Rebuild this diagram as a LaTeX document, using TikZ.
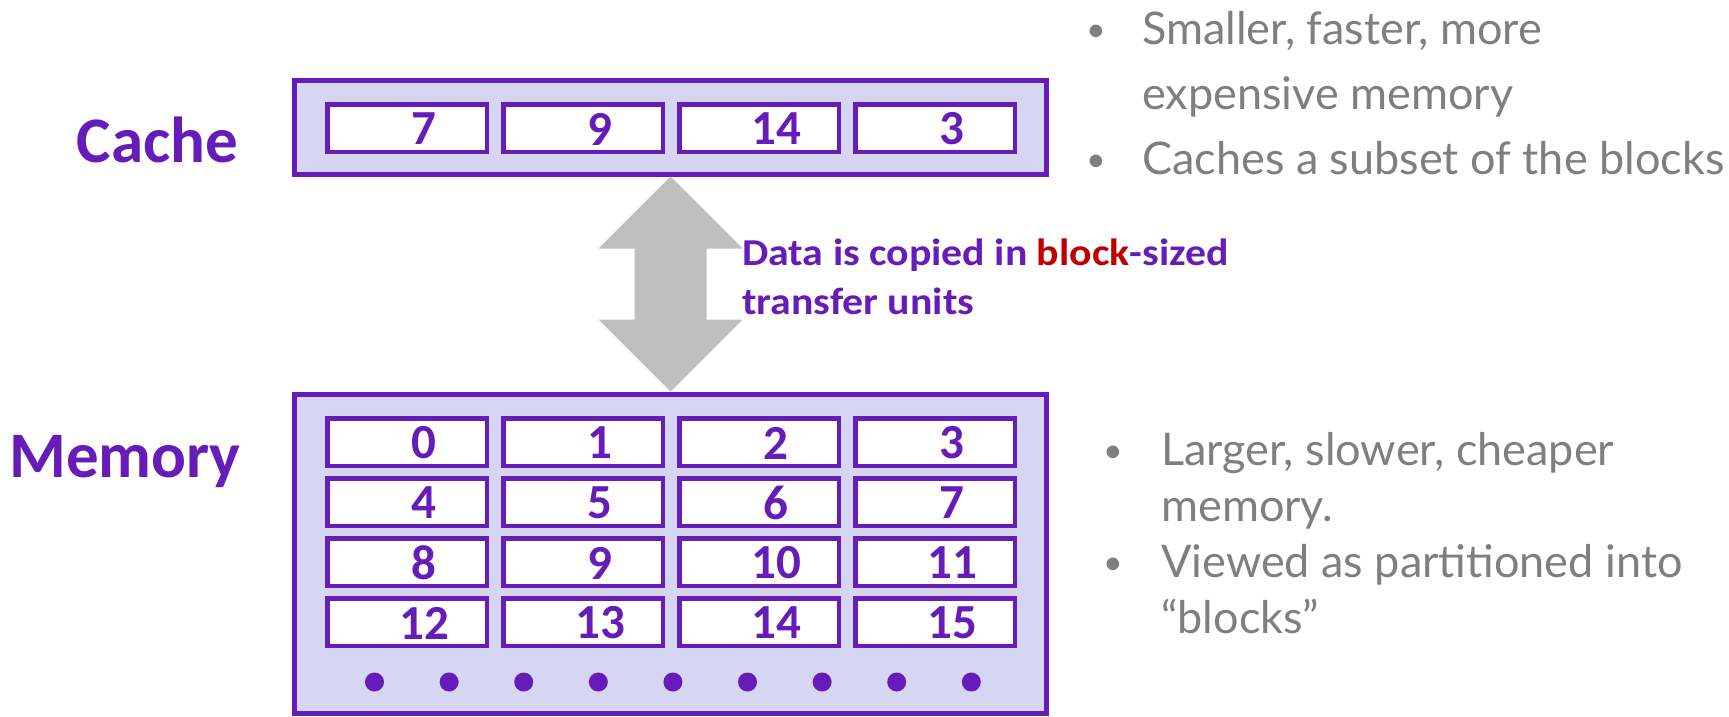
\documentclass[tikz,border=0pt]{standalone}
\usepackage{fontspec}
\setmainfont{Carlito}
\newfontfamily\gfont{Lato}
\newfontfamily\notefont[FakeStretch=1.1]{Carlito}
\definecolor{cpurple}{RGB}{102,28,184}
\definecolor{cfill}{RGB}{214,214,243}
\definecolor{arrowgray}{RGB}{191,191,191}
\definecolor{tgray}{RGB}{127,127,127}
\definecolor{cred}{RGB}{192,0,0}
\begin{document}
\begin{tikzpicture}[x=1pt,y=-1pt,
  outerbox/.style={draw=cpurple, fill=cfill, line width=5pt, inner sep=0pt, minimum width=752pt, minimum height=94pt},
  cellbox/.style={draw=cpurple, fill=white, line width=4.5pt, inner sep=0pt, minimum width=159.5pt, minimum height=47.5pt},
  num/.style={text=cpurple, font=\fontsize{49}{49}\selectfont\bfseries, inner sep=0pt},
  biglabel/.style={text=cpurple, font=\fontsize{65}{65}\selectfont\bfseries, inner sep=0pt, anchor=base},
  note/.style={text=cpurple, font=\notefont\fontsize{38}{38}\selectfont\bfseries, inner sep=0pt, anchor=base west},
  gtext/.style={text=tgray, font=\gfont\fontsize{45}{45}\selectfont, inner sep=0pt, anchor=base west},
  gbullet/.style={text=tgray, font=\gfont\fontsize{34}{34}\selectfont, inner sep=0pt, anchor=base, yshift=3pt},
  memdot/.style={circle, fill=cpurple, minimum size=19pt, inner sep=0pt}]
\useasboundingbox (0,0) rectangle (1729,717);
% boxes
\node[outerbox] (cache) at (670.5,127) {};
\node[outerbox, minimum height=319pt] (mem) at (670.5,553.5) {};
% arrow
\fill[arrowgray] (cache.south) -- ++(72,72) -- ++(-36,0) -- ++(0,71) -- ++(36,0) -- (mem.north)
  -- ++(-72,-72) -- ++(36,0) -- ++(0,-71) -- ++(-36,0) -- cycle;
% cache cells
\foreach \v [count=\i from 0] in {7,9,14,3} {
  \node[cellbox] (c\i) at ({407+176*\i},128) {};
  \node[num] (cn\i) at ([xshift=17pt,yshift=-1pt]c\i.center) {\v};
}
% memory cells
\foreach \r in {0,...,3} {
  \foreach \c in {0,...,3} {
    \pgfmathtruncatemacro\n{4*\r+\c}
    \node[cellbox] (m\n) at ({407+176*\c},{442+60*\r}) {};
    \node[num] (mn\n) at ([xshift=17pt,yshift=-1pt]m\n.center) {\n};
  }
}
% dots
\foreach \k in {0,...,8} {
  \node[memdot] (d\k) at ({374.5+74.6*\k},682) {};
}
% labels
\node[biglabel] (lcache) at (157.5,162) {Cache};
\node[biglabel] (lmem) at (125,477) {Memory};
\node[note] (t1) at (742,265) {Data is copied in \textcolor{cred}{block}-sized};
\node[note] (t2) at (742,314) {transfer units};
% cache bullets
\node[gbullet] (b1) at (1096,45) {•};
\node[gtext] (g1) at (1142,45) {Smaller, faster, more};
\node[gtext] (g2) at (1142,110) {expensive memory};
\node[gbullet] (b2) at (1096,174) {•};
\node[gtext] (g3) at (1142,174) {Caches a subset of the blocks};
% memory bullets
\node[gbullet] (b3) at (1113,465) {•};
\node[gtext] (g4) at (1161,465) {Larger, slower, cheaper};
\node[gtext] (g5) at (1161,521) {memory.};
\node[gbullet] (b4) at (1113,577) {•};
\node[gtext] (g6) at (1161,577) {Viewed as partitioned into};
\node[gtext] (g7) at (1161,633) {“blocks”};
\end{tikzpicture}
\end{document}
